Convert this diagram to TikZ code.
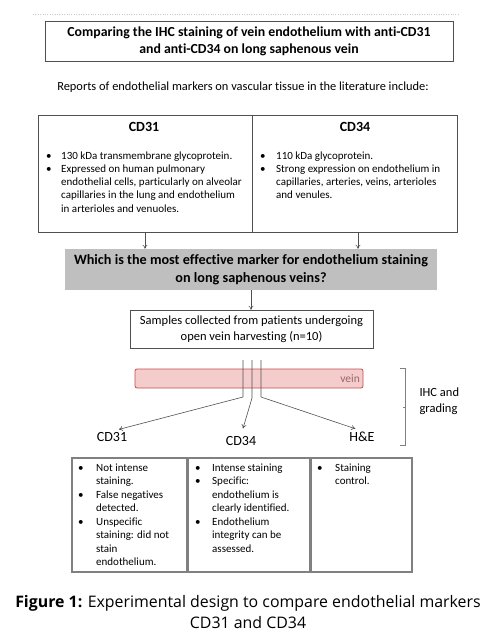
\documentclass[tikz,border=0pt]{standalone}
\usepackage{fontspec}
\setmainfont[Ligatures=CommonOff]{Carlito}
\newfontfamily\legenda{Open Sans}
\usetikzlibrary{arrows.meta, positioning}
\definecolor{cinza}{RGB}{191, 191, 191}
\definecolor{rosa}{RGB}{244, 204, 204}
\definecolor{vermelho}{RGB}{192, 80, 77}
\definecolor{traco}{RGB}{80, 80, 80}
\tikzset{
  caixa/.style={draw=traco, thick, inner sep=0pt},
  lista/.style={anchor=north west, inner sep=0pt, align=left},
  seta/.style={-{To[length=4pt, width=5pt]}, traco, line width=0.6pt},
}

\begin{document}
\begin{tikzpicture}[
    x=1pt, y=-1pt,
    rotulo/.style={
        font=\fontsize{14}{16}\selectfont,
        inner sep=1pt
    },
    tabela/.style={
        draw=gray,
        line width=1.1pt
    }
]
\useasboundingbox (0,0) rectangle (501,636);

\draw[gray!40, dotted] (33,14) -- (460,14);

\node[caixa, minimum width=408, minimum height=40, align=center,
      font=\bfseries\fontsize{13.8}{17}\selectfont] (titulo) at (249,41)
{Comparing the IHC staining of vein endothelium with anti-CD31\\
and anti-CD34 on long saphenous vein};

\node[font=\fontsize{12.4}{13}\selectfont] (relatos) at (243,87)
{Reports of endothelial markers on vascular tissue in the literature include:};

% marcadores
\node[caixa, minimum width=214, minimum height=117] (cd31) at (145,173.5) {};
\node[caixa, minimum width=205, minimum height=117] (cd34) at (354.5,173.5) {};

\node[font=\bfseries\fontsize{14}{16}\selectfont] (cd31tit) at (144,127) {CD31};
\node[font=\bfseries\fontsize{14}{16}\selectfont] (cd34tit) at (355,127) {CD34};

\node[lista] (cd31txt) at (46,149.5)
{{\fontsize{11}{13.3}\selectfont\begin{tabular}{@{}p{15pt}@{}l@{}}
\textbullet & 130 kDa transmembrane glycoprotein.\\
\textbullet & Expressed on human pulmonary\\
 & endothelial cells, particularly on alveolar\\
 & capillaries in the lung and endothelium\\
 & in arterioles and venuoles.
\end{tabular}}};

\node[lista] (cd34txt) at (260,149.5)
{{\fontsize{11}{13.3}\selectfont\begin{tabular}{@{}p{16pt}@{}l@{}}
\textbullet & 110 kDa glycoprotein.\\
\textbullet & Strong expression on endothelium in\\
 & capillaries, arteries, veins, arterioles\\
 & and venules.
\end{tabular}}};

% pergunta
\node[fill=cinza, minimum width=372, minimum height=41, inner sep=0pt, align=center,
      font=\bfseries\fontsize{14.2}{18}\selectfont] (pergunta) at (251,269.5)
{Which is the most effective marker for endothelium staining\\
on long saphenous veins?};

\draw[seta] (cd31.south) -- (cd31.south |- pergunta.north);
\draw[seta] (cd34.south -| 358,0) -- (358,0 |- pergunta.north);

\node[caixa, thin, minimum width=243, minimum height=38, align=center,
      font=\fontsize{12.5}{16}\selectfont] (amostras) at (251.5,329)
{Samples collected from patients undergoing\\
open vein harvesting (n=10)};

\draw[seta] (pergunta.south) -- (pergunta.south |- amostras.north);

% veia
\node[draw=vermelho, fill=rosa, rounded corners=2pt, thick,
      minimum width=228, minimum height=19, inner sep=0pt] (veia) at (249,378.5) {};
\node[anchor=east, text=gray!80!red, font=\fontsize{11.5}{12}\selectfont] (veiatxt)
  at (veia.east) {vein};

\node[rotulo] (cd31lab) at (112,437) {CD31};
\node[rotulo] (cd34lab) at (241,441) {CD34};
\node[rotulo] (helab) at (362,437) {H\&E};

\coordinate (c1) at (243,360);
\coordinate (c2) at (252,360);
\coordinate (c3) at (261,360);

\draw[seta, shorten >=7pt] (c1) -- (243,397) -- (cd31lab.north);
\draw[seta, shorten >=7pt] (c2) -- (252,398) -- (cd34lab.north);
\draw[seta, shorten >=7pt] (c3) -- (261,397) -- (helab.north);

% IHC
\draw[gray, thick] (400,368) -- (405,368) -- (405,445) -- (400,445);
\draw[gray, thick] (405,407) -- (403,407);
\node[anchor=west, align=left, font=\fontsize{12.5}{16}\selectfont] (ihc) at (416,401)
{IHC and\\grading};

% resultados
\node[tabela, minimum width=115, minimum height=114] (res31) at (129.5,515) {};
\node[tabela, minimum width=122, minimum height=114] (res34) at (249,515) {};
\node[tabela, minimum width=101, minimum height=114] (reshe) at (361.5,515) {};

\node[lista] (res31txt) at (78,461.5)
{{\fontsize{11}{13.5}\selectfont\begin{tabular}{@{}p{18pt}@{}l@{}}
\textbullet & Not intense\\
 & staining.\\
\textbullet & False negatives\\
 & detected.\\
\textbullet & Unspecific\\
 & staining: did not\\
 & stain\\
 & endothelium.
\end{tabular}}};

\node[lista] (res34txt) at (195,461.5)
{{\fontsize{11}{13.5}\selectfont\begin{tabular}{@{}p{17pt}@{}l@{}}
\textbullet & Intense staining\\
\textbullet & Specific:\\
 & endothelium is\\
 & clearly identified.\\
\textbullet & Endothelium\\
 & integrity can be\\
 & assessed.
\end{tabular}}};

\node[lista] (reshetxt) at (317,461.5)
{{\fontsize{11}{13.5}\selectfont\begin{tabular}{@{}p{18pt}@{}l@{}}
\textbullet & Staining\\
 & control.
\end{tabular}}};

% legenda
\node[align=center, font=\legenda\fontsize{15.9}{21}\selectfont] (legenda) at (248,612.5)
{\textbf{Figure 1:} Experimental design to compare endothelial markers\\
CD31 and CD34};

\end{tikzpicture}
\end{document}
